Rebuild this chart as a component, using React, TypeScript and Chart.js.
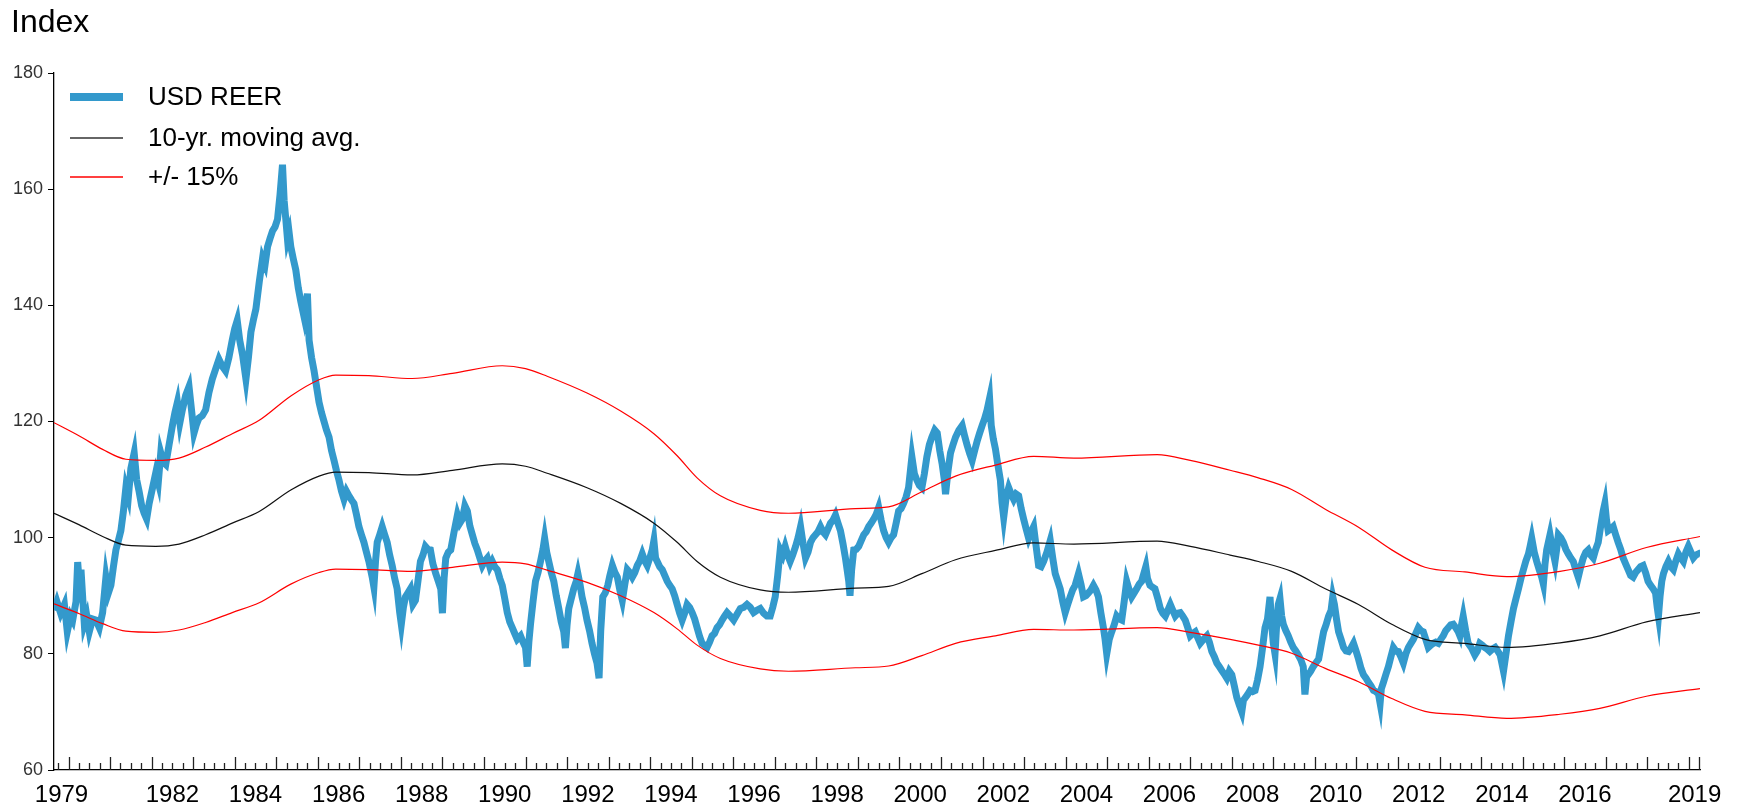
import React, { useEffect, useRef } from "react";
import { Chart, registerables } from "chart.js";

Chart.register(...registerables);

// ---- Data ----
const reerYears = [
  1979.65, 1979.72, 1979.81, 1979.9, 1979.97, 1980.05, 1980.1, 1980.18, 1980.22, 1980.26, 1980.3, 1980.38, 1980.44, 1980.5, 1980.58, 1980.66, 1980.74, 1980.82, 1980.9, 1980.96,
  1981.02, 1981.08, 1981.14, 1981.2, 1981.26, 1981.32, 1981.38, 1981.44, 1981.5, 1981.58, 1981.64, 1981.7, 1981.76, 1981.82, 1981.88, 1981.94, 1982.02, 1982.1, 1982.16, 1982.22,
  1982.28, 1982.34, 1982.42, 1982.5, 1982.56, 1982.62, 1982.68, 1982.74, 1982.82, 1982.9, 1982.96, 1983.02, 1983.08, 1983.14, 1983.22, 1983.3, 1983.38, 1983.46, 1983.54, 1983.62,
  1983.7, 1983.78, 1983.86, 1983.94, 1984.0, 1984.06, 1984.12, 1984.19, 1984.27, 1984.33, 1984.39, 1984.45, 1984.51, 1984.59, 1984.67, 1984.73, 1984.79, 1984.85, 1984.91, 1984.97,
  1985.03, 1985.09, 1985.15, 1985.19, 1985.23, 1985.27, 1985.31, 1985.35, 1985.41, 1985.47, 1985.53, 1985.59, 1985.67, 1985.75, 1985.79, 1985.85, 1985.91, 1985.97, 1986.03, 1986.09,
  1986.15, 1986.21, 1986.27, 1986.33, 1986.39, 1986.45, 1986.51, 1986.57, 1986.63, 1986.69, 1986.75, 1986.81, 1986.87, 1986.93, 1986.99, 1987.05, 1987.11, 1987.17, 1987.23, 1987.31,
  1987.35, 1987.39, 1987.43, 1987.49, 1987.55, 1987.61, 1987.67, 1987.73, 1987.79, 1987.85, 1987.91, 1987.97, 1988.01, 1988.06, 1988.11, 1988.17, 1988.23, 1988.29, 1988.35, 1988.41,
  1988.47, 1988.53, 1988.59, 1988.65, 1988.71, 1988.77, 1988.84, 1988.9, 1988.96, 1989.0, 1989.04, 1989.08, 1989.14, 1989.2, 1989.28, 1989.36, 1989.42, 1989.48, 1989.54, 1989.6,
  1989.66, 1989.72, 1989.78, 1989.84, 1989.9, 1989.96, 1990.02, 1990.08, 1990.14, 1990.2, 1990.26, 1990.32, 1990.38, 1990.44, 1990.5, 1990.56, 1990.62, 1990.68, 1990.74, 1990.8,
  1990.88, 1990.94, 1991.0, 1991.04, 1991.08, 1991.12, 1991.18, 1991.24, 1991.3, 1991.36, 1991.42, 1991.46, 1991.51, 1991.56, 1991.62, 1991.68, 1991.74, 1991.8, 1991.86, 1991.92,
  1991.96, 1992.0, 1992.04, 1992.1, 1992.16, 1992.22, 1992.26, 1992.31, 1992.36, 1992.42, 1992.48, 1992.54, 1992.6, 1992.66, 1992.72, 1992.77, 1992.81, 1992.86, 1992.92, 1992.98,
  1993.03, 1993.09, 1993.15, 1993.21, 1993.27, 1993.33, 1993.39, 1993.45, 1993.51, 1993.57, 1993.63, 1993.69, 1993.75, 1993.81, 1993.87, 1993.93, 1993.99, 1994.05, 1994.09, 1994.13,
  1994.17, 1994.23, 1994.29, 1994.35, 1994.41, 1994.47, 1994.53, 1994.59, 1994.65, 1994.71, 1994.77, 1994.83, 1994.89, 1994.95, 1995.01, 1995.07, 1995.13, 1995.19, 1995.25, 1995.31,
  1995.37, 1995.43, 1995.49, 1995.55, 1995.61, 1995.67, 1995.73, 1995.79, 1995.85, 1995.93, 1996.01, 1996.09, 1996.17, 1996.25, 1996.33, 1996.41, 1996.49, 1996.57, 1996.65, 1996.73,
  1996.81, 1996.89, 1996.95, 1997.01, 1997.07, 1997.13, 1997.19, 1997.25, 1997.31, 1997.37, 1997.43, 1997.5, 1997.56, 1997.62, 1997.68, 1997.74, 1997.8, 1997.86, 1997.92, 1997.98,
  1998.04, 1998.1, 1998.16, 1998.22, 1998.28, 1998.34, 1998.4, 1998.46, 1998.52, 1998.58, 1998.64, 1998.7, 1998.74, 1998.78, 1998.81, 1998.85, 1998.9, 1998.96, 1999.02, 1999.08,
  1999.14, 1999.2, 1999.26, 1999.32, 1999.38, 1999.44, 1999.5, 1999.56, 1999.62, 1999.68, 1999.74, 1999.8, 1999.86, 1999.92, 1999.98, 2000.04, 2000.1, 2000.16, 2000.22, 2000.3,
  2000.36, 2000.42, 2000.48, 2000.54, 2000.6, 2000.66, 2000.72, 2000.78, 2000.85, 2000.91, 2000.97, 2001.03, 2001.08, 2001.11, 2001.17, 2001.23, 2001.29, 2001.35, 2001.43, 2001.51,
  2001.57, 2001.63, 2001.69, 2001.75, 2001.81, 2001.87, 2001.93, 2001.99, 2002.05, 2002.11, 2002.17, 2002.21, 2002.26, 2002.31, 2002.37, 2002.43, 2002.47, 2002.51, 2002.57, 2002.63,
  2002.69, 2002.75, 2002.81, 2002.87, 2002.93, 2002.99, 2003.05, 2003.11, 2003.17, 2003.23, 2003.29, 2003.35, 2003.41, 2003.47, 2003.55, 2003.63, 2003.69, 2003.75, 2003.81, 2003.87,
  2003.93, 2003.99, 2004.05, 2004.11, 2004.17, 2004.23, 2004.31, 2004.37, 2004.43, 2004.49, 2004.55, 2004.61, 2004.67, 2004.73, 2004.79, 2004.85, 2004.91, 2004.95, 2004.99, 2005.05,
  2005.11, 2005.17, 2005.23, 2005.29, 2005.35, 2005.41, 2005.47, 2005.53, 2005.59, 2005.65, 2005.71, 2005.77, 2005.83, 2005.89, 2005.93, 2005.97, 2006.03, 2006.09, 2006.15, 2006.22,
  2006.28, 2006.34, 2006.4, 2006.46, 2006.52, 2006.58, 2006.64, 2006.7, 2006.76, 2006.82, 2006.88, 2006.94, 2007.0, 2007.06, 2007.12, 2007.18, 2007.24, 2007.32, 2007.4, 2007.46,
  2007.52, 2007.58, 2007.64, 2007.7, 2007.76, 2007.82, 2007.88, 2007.94, 2008.0, 2008.06, 2008.12, 2008.18, 2008.24, 2008.28, 2008.32, 2008.38, 2008.44, 2008.5, 2008.56, 2008.62,
  2008.68, 2008.74, 2008.8, 2008.86, 2008.92, 2008.96, 2009.0, 2009.04, 2009.08, 2009.12, 2009.16, 2009.2, 2009.24, 2009.3, 2009.36, 2009.42, 2009.48, 2009.54, 2009.6, 2009.66,
  2009.72, 2009.76, 2009.8, 2009.84, 2009.9, 2009.96, 2010.03, 2010.09, 2010.15, 2010.21, 2010.27, 2010.33, 2010.39, 2010.43, 2010.47, 2010.52, 2010.57, 2010.63, 2010.69, 2010.75,
  2010.81, 2010.87, 2010.93, 2010.99, 2011.05, 2011.11, 2011.17, 2011.23, 2011.29, 2011.35, 2011.41, 2011.47, 2011.53, 2011.57, 2011.6, 2011.65, 2011.71, 2011.77, 2011.83, 2011.89,
  2011.95, 2012.01, 2012.07, 2012.13, 2012.19, 2012.25, 2012.31, 2012.37, 2012.43, 2012.49, 2012.55, 2012.61, 2012.67, 2012.73, 2012.79, 2012.85, 2012.91, 2012.97, 2013.03, 2013.09,
  2013.15, 2013.21, 2013.27, 2013.33, 2013.39, 2013.45, 2013.49, 2013.53, 2013.57, 2013.63, 2013.69, 2013.77, 2013.85, 2013.91, 2013.97, 2014.03, 2014.09, 2014.15, 2014.21, 2014.27,
  2014.34, 2014.4, 2014.46, 2014.5, 2014.54, 2014.6, 2014.66, 2014.72, 2014.78, 2014.84, 2014.9, 2014.96, 2015.02, 2015.08, 2015.14, 2015.18, 2015.22, 2015.28, 2015.34, 2015.4,
  2015.46, 2015.5, 2015.54, 2015.58, 2015.66, 2015.72, 2015.78, 2015.82, 2015.86, 2015.92, 2015.98, 2016.04, 2016.1, 2016.16, 2016.22, 2016.28, 2016.34, 2016.4, 2016.46, 2016.52,
  2016.58, 2016.64, 2016.7, 2016.76, 2016.82, 2016.88, 2016.94, 2016.98, 2017.02, 2017.06, 2017.12, 2017.18, 2017.24, 2017.3, 2017.36, 2017.42, 2017.48, 2017.54, 2017.6, 2017.66,
  2017.72, 2017.78, 2017.84, 2017.9, 2017.96, 2018.02, 2018.08, 2018.14, 2018.2, 2018.24, 2018.27, 2018.31, 2018.35, 2018.39, 2018.45, 2018.51, 2018.57, 2018.63, 2018.69, 2018.75,
  2018.81, 2018.87, 2018.93, 2018.99, 2019.05, 2019.11, 2019.17, 2019.23, 2019.27,
];

const reerValues = [
  87.5, 89.0, 87.0, 88.5, 83.8, 86.5, 85.8, 89.0, 95.8, 92.0, 94.5, 85.1, 86.5, 83.8, 86.0, 85.8, 84.5, 87.1, 93.2, 90.5,
  91.8, 95.0, 97.9, 99.5, 101.2, 104.5, 108.6, 107.0, 111.9, 114.6, 110.0, 107.9, 105.5, 104.2, 103.2, 105.9, 108.5, 111.2, 109.5, 114.6,
  113.0, 112.6, 116.0, 119.3, 121.5, 123.3, 119.8, 122.0, 124.5, 126.0, 122.0, 118.0, 119.5, 120.6, 121.0, 122.0, 125.0, 127.3, 129.0, 130.7,
  129.5, 128.7, 131.0, 134.0, 136.0, 137.4, 134.0, 131.4, 127.3, 131.0, 135.4, 137.5, 139.4, 144.0, 148.1, 147.0, 150.1, 151.5, 152.8, 153.5,
  154.8, 159.0, 164.2, 158.0, 154.8, 151.4, 152.5, 150.1, 148.0, 146.1, 143.0, 140.7, 138.0, 142.0, 134.0, 131.0, 128.7, 126.0, 123.3, 121.5,
  120.0, 118.5, 117.3, 115.0, 113.3, 111.5, 109.9, 108.0, 106.6, 108.0, 107.2, 106.5, 105.9, 104.0, 101.9, 100.5, 99.2, 97.5, 95.9, 93.2,
  91.5, 96.0, 99.2, 100.5, 101.9, 100.5, 99.2, 97.0, 95.2, 93.0, 91.2, 87.2, 85.1, 88.0, 89.8, 90.5, 91.2, 88.5, 89.2, 92.5,
  95.9, 97.0, 98.5, 98.0, 97.9, 95.5, 93.8, 92.5, 91.2, 87.0, 93.0, 96.5, 97.5, 97.9, 101.0, 103.9, 102.5, 103.2, 105.5, 104.6,
  102.0, 100.5, 99.0, 97.9, 96.5, 95.2, 96.0, 96.5, 95.0, 95.9, 95.0, 94.5, 93.0, 91.8, 89.5, 87.1, 85.5, 84.5, 83.5, 82.5,
  83.1, 82.0, 81.1, 77.8, 82.0, 85.1, 89.0, 92.5, 94.0, 95.9, 98.0, 99.9, 97.5, 95.9, 94.0, 92.5, 90.0, 87.8, 85.5, 83.8,
  81.0, 85.0, 87.8, 89.5, 91.2, 92.5, 93.8, 92.0, 89.8, 88.0, 85.8, 84.0, 81.8, 80.0, 78.4, 75.8, 84.0, 89.8, 90.5, 91.8,
  93.5, 95.2, 94.0, 93.2, 91.0, 89.2, 92.0, 94.5, 94.0, 93.2, 94.0, 95.2, 96.0, 97.2, 96.0, 95.2, 96.5, 97.9, 99.5, 96.5,
  95.9, 95.0, 94.5, 93.5, 92.5, 91.8, 91.2, 90.0, 88.5, 87.0, 85.8, 87.0, 88.5, 88.0, 87.1, 86.0, 84.5, 83.0, 81.8, 81.5,
  81.1, 82.0, 83.1, 83.5, 84.5, 85.0, 85.8, 86.5, 87.1, 86.5, 85.8, 86.8, 87.8, 88.0, 88.5, 88.0, 87.1, 87.5, 87.8, 87.0,
  86.5, 86.5, 88.0, 89.8, 93.5, 97.9, 97.0, 98.5, 97.0, 95.9, 97.0, 98.5, 100.0, 101.9, 99.0, 96.5, 97.5, 99.2, 100.0, 100.5,
  101.0, 101.9, 101.0, 100.5, 101.5, 102.5, 103.0, 103.9, 102.5, 101.2, 99.0, 96.5, 94.5, 92.5, 90.0, 94.5, 97.9, 98.0, 98.5, 99.5,
  100.5, 101.0, 101.9, 102.5, 103.2, 104.0, 105.2, 103.0, 101.2, 100.0, 99.2, 100.0, 100.5, 102.5, 104.6, 105.0, 105.9, 107.0, 108.6, 113.9,
  111.0, 109.9, 109.0, 108.6, 111.0, 113.9, 116.0, 117.3, 118.5, 118.0, 115.0, 112.6, 110.0, 107.5, 111.5, 114.6, 116.0, 117.3, 118.5, 119.3,
  117.5, 115.9, 114.5, 113.3, 115.0, 116.6, 118.0, 119.3, 120.5, 122.0, 124.0, 119.3, 117.0, 115.3, 112.5, 109.9, 106.0, 103.5, 107.0, 108.6,
  107.5, 106.6, 107.5, 107.2, 105.0, 103.2, 101.5, 99.9, 101.0, 101.9, 98.5, 95.2, 95.0, 95.9, 97.5, 99.5, 96.5, 93.8, 92.5, 91.2,
  89.0, 87.1, 88.5, 89.8, 91.0, 91.8, 93.8, 92.0, 89.8, 90.0, 90.5, 91.0, 91.8, 91.0, 89.8, 87.0, 84.5, 82.5, 80.0, 82.5,
  83.8, 85.0, 86.5, 86.0, 85.8, 89.0, 92.5, 91.0, 89.8, 90.5, 91.2, 92.0, 92.5, 94.0, 95.0, 93.0, 91.8, 91.5, 91.2, 89.5,
  87.8, 87.0, 86.5, 87.5, 88.5, 87.5, 86.5, 87.0, 87.1, 86.5, 85.8, 84.5, 83.1, 83.5, 83.8, 82.8, 81.8, 82.5, 83.1, 82.0,
  80.4, 79.5, 78.4, 77.8, 77.1, 76.5, 75.8, 77.0, 76.4, 74.5, 72.5, 71.2, 70.0, 72.0, 72.4, 73.0, 73.7, 73.5, 73.7, 75.5,
  77.8, 81.0, 84.5, 86.0, 89.8, 85.0, 81.8, 80.0, 85.0, 88.5, 89.5, 86.5, 85.1, 84.0, 83.1, 82.0, 81.1, 80.5, 79.8, 79.0,
  77.8, 73.0, 76.0, 76.4, 77.0, 77.8, 78.5, 79.1, 81.5, 83.8, 85.0, 86.5, 87.5, 89.8, 88.5, 86.0, 83.8, 82.5, 81.1, 80.5,
  80.4, 81.0, 81.8, 80.5, 79.1, 77.5, 76.4, 75.8, 75.1, 74.5, 73.7, 73.5, 73.1, 71.5, 74.0, 75.1, 76.5, 77.8, 79.5, 81.1,
  80.5, 80.4, 79.5, 78.4, 80.0, 81.1, 81.8, 82.5, 83.5, 84.5, 84.0, 83.8, 82.5, 81.1, 81.5, 81.8, 82.0, 81.8, 82.5, 83.1,
  84.0, 84.5, 85.0, 85.1, 84.5, 83.8, 83.1, 85.0, 86.5, 84.0, 81.8, 81.0, 79.8, 80.5, 81.8, 81.5, 81.1, 80.8, 80.4, 80.8,
  81.1, 80.5, 79.8, 78.4, 77.0, 80.0, 83.1, 85.5, 87.8, 89.5, 91.2, 93.0, 94.5, 96.0, 97.2, 98.5, 99.9, 97.5, 95.9, 94.5,
  93.2, 92.0, 95.5, 97.9, 100.5, 98.0, 95.9, 98.0, 100.5, 100.0, 99.2, 98.0, 97.2, 96.5, 95.9, 94.5, 93.2, 95.0, 96.5, 97.5,
  97.9, 97.0, 96.5, 98.0, 99.2, 102.0, 104.6, 105.9, 103.0, 101.2, 101.5, 101.9, 100.5, 99.2, 98.0, 96.5, 95.5, 94.5, 93.5, 93.2,
  94.0, 94.5, 95.0, 95.2, 94.0, 92.5, 91.8, 91.2, 90.5, 88.0, 86.5, 90.0, 92.5, 93.8, 95.0, 95.9, 95.0, 94.5, 96.0, 97.2,
  96.5, 95.9, 97.5, 98.5, 97.5, 96.5, 97.0, 97.2, 96.8,
];

const maYears = [
  1979.65, 1980.26, 1980.82, 1981.38, 1982.1, 1982.66, 1983.3, 1983.94, 1984.59, 1985.35, 1986.03, 1986.43, 1987.23, 1988.27, 1989.24, 1990.44,
  1991.0, 1991.52, 1992.48, 1993.29, 1994.09, 1994.65, 1995.13, 1995.69, 1996.65, 1997.33, 1998.94, 1999.74, 2000.54, 2001.35, 2002.31, 2003.23,
  2004.2, 2006.2, 2007.0, 2007.96, 2008.64, 2009.44, 2010.25, 2011.05, 2011.85, 2012.65, 2013.61, 2014.62, 2015.9, 2016.86, 2017.98, 2019.27,
];
const maValues = [
  104.2, 102.2, 100.2, 98.7, 98.5, 98.9, 100.5, 102.5, 104.5, 108.2, 110.6, 111.3, 111.2, 110.8, 111.6, 112.7,
  112.3, 111.1, 108.6, 105.9, 102.5, 99.2, 95.9, 93.2, 91.0, 90.6, 91.3, 91.6, 93.8, 96.2, 97.8, 99.1,
  98.9, 99.4, 98.5, 97.0, 95.9, 94.2, 91.2, 88.5, 85.1, 82.5, 81.8, 81.1, 81.9, 83.1, 85.5, 87.1,
];
const upperValues = [
  119.8, 117.5, 115.2, 113.5, 113.3, 113.7, 115.6, 117.9, 120.2, 124.4, 127.2, 128.0, 127.9, 127.4, 128.3, 129.6,
  129.1, 127.8, 124.9, 121.8, 117.9, 114.1, 110.3, 107.2, 104.7, 104.2, 105.0, 105.3, 107.9, 110.6, 112.5, 114.0,
  113.7, 114.3, 113.3, 111.6, 110.3, 108.3, 104.9, 101.8, 97.9, 94.9, 94.1, 93.3, 94.2, 95.6, 98.3, 100.2,
];
const lowerValues = [
  88.6, 86.9, 85.2, 83.9, 83.7, 84.1, 85.4, 87.1, 88.8, 92.0, 94.0, 94.6, 94.5, 94.2, 94.9, 95.8,
  95.5, 94.4, 92.3, 90.0, 87.1, 84.3, 81.5, 79.2, 77.4, 77.0, 77.6, 77.9, 79.7, 81.8, 83.1, 84.2,
  84.1, 84.5, 83.7, 82.5, 81.5, 80.1, 77.5, 75.2, 72.3, 70.1, 69.5, 68.9, 69.6, 70.6, 72.7, 74.0,
];

const xLabelTexts = ["1979", "1982", "1984", "1986", "1988", "1990", "1992", "1994", "1996", "1998", "2000", "2002", "2004", "2006", "2008", "2010", "2012", "2014", "2016", "2019"];
const xLabelAt = [1979.83, 1982.5, 1984.5, 1986.5, 1988.5, 1990.5, 1992.5, 1994.5, 1996.5, 1998.5, 2000.5, 2002.5, 2004.5, 2006.5, 2008.5, 2010.5, 2012.5, 2014.5, 2016.5, 2019.14];
const xMin = 1979.65;
const xMax = 2019.27;
const yMin = 60;
const yMax = 180;
const yStep = 20;

const legendItems = ["USD REER", "10-yr. moving avg.", "+/- 15%"];
const titleText = "Index";

const BLUE = "#3399cc";
const RED = "#ff0000";
const FONT = "'Liberation Sans', Arial, sans-serif";

function toPoints(xs: number[], ys: number[]) {
  return xs.map((x, i) => ({ x, y: ys[i] }));
}

const decorPlugin = {
  id: "decor",
  afterDatasetsDraw(chart: any) {
    const { ctx } = chart;
    const xs = chart.scales.x;
    const area = chart.chartArea;
    ctx.save();
    // x tick marks (quarterly, yearly taller), pointing up into the plot
    ctx.strokeStyle = "#222";
    ctx.lineWidth = 1.3;
    const start = Math.ceil(xMin * 4);
    const end = Math.floor(xMax * 4);
    ctx.beginPath();
    for (let k = start; k <= end; k++) {
      const v = k / 4;
      const px = Math.round(xs.getPixelForValue(v)) + 0.5;
      const len = k % 4 === 0 ? 13 : 7;
      ctx.moveTo(px, area.bottom);
      ctx.lineTo(px, area.bottom - len);
    }
    const pe = Math.round(xs.getPixelForValue(xMax)) - 0.5;
    ctx.moveTo(pe, area.bottom);
    ctx.lineTo(pe, area.bottom - 13);
    ctx.stroke();
    ctx.restore();
  },
  afterDraw(chart: any) {
    const { ctx } = chart;
    ctx.save();
    // title
    ctx.fillStyle = "#000";
    ctx.font = `32px ${FONT}`;
    ctx.textBaseline = "alphabetic";
    ctx.textAlign = "left";
    ctx.fillText(titleText, 11, 32);
    // legend
    const rows = [97, 138, 177];
    const styles = [
      { c: BLUE, w: 8 },
      { c: "#333", w: 1.5 },
      { c: RED, w: 1.5 },
    ];
    for (let i = 0; i < legendItems.length; i++) {
      ctx.beginPath();
      ctx.strokeStyle = styles[i].c;
      ctx.lineWidth = styles[i].w;
      ctx.moveTo(70, rows[i]);
      ctx.lineTo(123, rows[i]);
      ctx.stroke();
      ctx.fillStyle = "#000";
      ctx.font = `26px ${FONT}`;
      ctx.textBaseline = "middle";
      ctx.fillText(legendItems[i], 148, rows[i] + 1);
    }
    ctx.restore();
  },
};

export default function App() {
  const ref = useRef<HTMLCanvasElement | null>(null);
  useEffect(() => {
    if (!ref.current) return;
    const chart = new Chart(ref.current, {
      type: "line",
      data: {
        datasets: [
          {
            label: legendItems[0],
            data: toPoints(reerYears, reerValues),
            borderColor: BLUE,
            borderWidth: 7,
            pointRadius: 0,
            tension: 0,
            order: 3,
            borderJoinStyle: "miter",
          },
          {
            label: legendItems[1],
            data: toPoints(maYears, maValues),
            borderColor: "#111",
            borderWidth: 1.2,
            pointRadius: 0,
            cubicInterpolationMode: "monotone",
            order: 1,
          },
          {
            label: legendItems[2],
            data: toPoints(maYears, upperValues),
            borderColor: RED,
            borderWidth: 1.2,
            pointRadius: 0,
            cubicInterpolationMode: "monotone",
            order: 1,
          },
          {
            label: legendItems[2] + " ",
            data: toPoints(maYears, lowerValues),
            borderColor: RED,
            borderWidth: 1.2,
            pointRadius: 0,
            cubicInterpolationMode: "monotone",
            order: 1,
          },
        ],
      },
      options: {
        animation: false,
        responsive: true,
        maintainAspectRatio: false,
        layout: { padding: { left: 0, right: 43, top: 73, bottom: 0 } },
        plugins: {
          legend: { display: false },
          tooltip: { enabled: false },
          title: { display: false },
        },
        scales: {
          x: {
            type: "linear",
            min: xMin,
            max: xMax,
            afterFit: (s: any) => {
              s.height = 36;
            },
            afterBuildTicks: (s: any) => {
              s.ticks = xLabelAt.map((v) => ({ value: v }));
            },
            grid: { display: false },
            border: { display: true, color: "#000", width: 1.3 },
            ticks: {
              autoSkip: false,
              maxRotation: 0,
              minRotation: 0,
              padding: 3,
              color: "#000",
              font: { family: FONT, size: 24 },
              callback: (_v: any, i: number) => xLabelTexts[i],
            },
          },
          y: {
            min: yMin,
            max: yMax,
            afterFit: (s: any) => {
              s.width = 54;
            },
            grid: { display: true, drawOnChartArea: false, drawTicks: true, tickLength: 6, color: "#000" },
            border: { display: true, color: "#000", width: 1.3 },
            ticks: {
              stepSize: yStep,
              padding: 5,
              color: "#333",
              font: { family: FONT, size: 18 },
            },
          },
        },
      },
      plugins: [decorPlugin],
    } as any);
    return () => chart.destroy();
  }, []);
  return (
    <div style={{ position: "fixed", left: 0, top: 0, width: 1743, height: 806, background: "#fff" }}>
      <canvas ref={ref} />
    </div>
  );
}
